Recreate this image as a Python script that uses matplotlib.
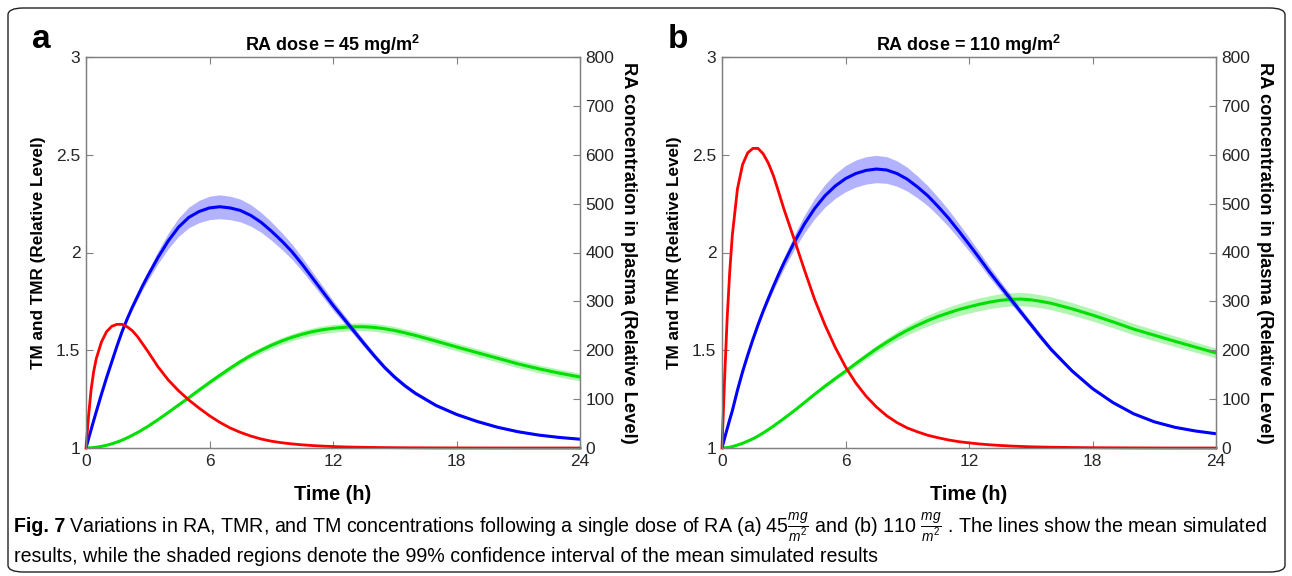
import numpy as np
import matplotlib
matplotlib.use("Agg")
import matplotlib.pyplot as plt
from matplotlib.patches import FancyBboxPatch

plt.rcParams["font.family"] = ["Liberation Sans", "DejaVu Sans"]
plt.rcParams["mathtext.fontset"] = "custom"
plt.rcParams["mathtext.rm"] = "Liberation Sans"
plt.rcParams["mathtext.it"] = "Liberation Sans:italic"
plt.rcParams["mathtext.bf"] = "Liberation Sans:bold"

# tiempo (h)
t = [0, 0.125, 0.25, 0.375, 0.5, 0.75, 1, 1.25, 1.5, 1.75, 2, 2.25, 2.5, 2.75, 3,
     3.5, 4, 4.5, 5, 5.5, 6, 6.5, 7, 7.5, 8, 8.5, 9, 9.5, 10, 10.5, 11, 11.5, 12, 12.5, 13,
     13.5, 14, 14.5, 15, 15.5, 16,
     17, 18, 19, 20, 21, 22, 23, 24]

# panel a: 45 mg/m2 (TMR azul, TM verde, RA rojo)
tmr_a = [1.0, 1.048, 1.095, 1.141, 1.186, 1.275, 1.36, 1.44, 1.52, 1.595, 1.66, 1.72, 1.775,
         1.83, 1.88,
         1.975, 2.06, 2.13, 2.18, 2.21, 2.228, 2.234, 2.228, 2.215, 2.19, 2.155, 2.11, 2.06,
         2.005, 1.94, 1.87, 1.80, 1.73, 1.665, 1.60, 1.535, 1.472, 1.413, 1.362, 1.318, 1.28,
         1.218, 1.172, 1.136, 1.106, 1.083, 1.066, 1.054, 1.045]
tmr_a_ci = [0, 0, 0, 0, 0, 0, 0.001, 0.002, 0.004, 0.006, 0.009, 0.012, 0.016, 0.02, 0.024,
            0.032, 0.04, 0.047, 0.053, 0.057, 0.06, 0.061, 0.06, 0.058, 0.055, 0.051, 0.047,
            0.043, 0.039, 0.035, 0.031, 0.028, 0.025, 0.022, 0.02, 0.017, 0.015, 0.013, 0.012,
            0.011, 0.01,
            0.008, 0.007, 0.006, 0.005, 0.004, 0.004, 0.003, 0.003]
tm_a = [1.0, 1.0005, 1.001, 1.002, 1.004, 1.008, 1.014, 1.021, 1.03, 1.04, 1.052, 1.065, 1.079,
        1.094, 1.11,
        1.145, 1.182, 1.22, 1.258, 1.297, 1.335, 1.372, 1.408, 1.442, 1.473, 1.50, 1.525, 1.547,
        1.566, 1.582, 1.595, 1.605, 1.612, 1.617, 1.62, 1.62, 1.617, 1.61, 1.601, 1.589, 1.576,
        1.547, 1.517, 1.488, 1.459, 1.43, 1.405, 1.383, 1.363]
tm_a_ci = [0, 0, 0, 0, 0, 0, 0, 0, 0, 0, 0, 0, 0, 0.001, 0.001,
           0.002, 0.003, 0.005, 0.007, 0.009, 0.01, 0.012, 0.013, 0.014, 0.015, 0.016, 0.017,
           0.018, 0.018, 0.019, 0.019, 0.02, 0.02, 0.02, 0.02, 0.02, 0.02, 0.02, 0.02, 0.02, 0.02,
           0.02, 0.02, 0.02, 0.02, 0.02, 0.02, 0.02, 0.02]
ra_a = [0, 66, 120, 157, 183, 217, 238, 249, 253, 253, 248, 240, 228, 213, 198,
        166, 139, 117, 98, 81.5, 66, 52.5, 41, 32, 24.5, 18.5, 14, 10.8, 8.4, 6.5, 5, 3.9, 3,
        2.3, 1.8, 1.4, 1.1, 0.85, 0.65, 0.5, 0.4,
        0.25, 0.15, 0.1, 0.05, 0, 0, 0, 0]

# panel b: 110 mg/m2
tmr_b = [1.0, 1.05, 1.098, 1.145, 1.19, 1.295, 1.39, 1.475, 1.555, 1.63, 1.70, 1.765, 1.828,
         1.888, 1.945,
         2.05, 2.145, 2.225, 2.29, 2.34, 2.378, 2.404, 2.42, 2.427, 2.422, 2.404, 2.375, 2.335,
         2.29, 2.235, 2.176, 2.11, 2.042, 1.972, 1.90, 1.832, 1.765, 1.698, 1.632, 1.566, 1.503,
         1.395, 1.304, 1.232, 1.175, 1.134, 1.106, 1.087, 1.073]
tmr_b_ci = [0, 0, 0, 0, 0, 0, 0.002, 0.004, 0.007, 0.01, 0.013, 0.017, 0.021, 0.025, 0.029,
            0.037, 0.045, 0.052, 0.058, 0.063, 0.067, 0.069, 0.07, 0.07, 0.068, 0.065, 0.061,
            0.056, 0.051, 0.047, 0.043, 0.039, 0.035, 0.031, 0.028, 0.025, 0.022, 0.019, 0.017,
            0.015, 0.013,
            0.01, 0.008, 0.006, 0.005, 0.004, 0.004, 0.003, 0.003]
tm_b = [1.0, 1.0005, 1.002, 1.004, 1.007, 1.015, 1.024, 1.035, 1.047, 1.061, 1.077, 1.094, 1.112,
        1.131, 1.15,
        1.19, 1.232, 1.275, 1.316, 1.355, 1.393, 1.432, 1.47, 1.507, 1.541, 1.573, 1.602, 1.628,
        1.652, 1.673, 1.691, 1.708, 1.722, 1.735, 1.746, 1.755, 1.76, 1.762, 1.758, 1.75, 1.74,
        1.712, 1.68, 1.645, 1.608, 1.577, 1.546, 1.516, 1.486]
tm_b_ci = [0, 0, 0, 0, 0, 0, 0, 0, 0, 0, 0, 0, 0, 0.001, 0.001,
           0.002, 0.004, 0.006, 0.008, 0.01, 0.012, 0.014, 0.016, 0.018, 0.02, 0.022, 0.024,
           0.026, 0.028, 0.029, 0.03, 0.031, 0.032, 0.033, 0.033, 0.034, 0.034, 0.034, 0.034,
           0.033, 0.033,
           0.032, 0.031, 0.03, 0.029, 0.028, 0.027, 0.026, 0.025]
ra_b = [0, 140, 265, 360, 435, 530, 580, 604, 613, 613, 602, 583, 557, 524, 490,
        428, 365, 304, 252, 206, 166, 133, 106, 84, 66, 52, 41, 33, 26, 21, 16.5, 13, 10.5, 8.3,
        6.6, 5.2, 4.1, 3.2, 2.5, 2, 1.6,
        1, 0.6, 0.4, 0.2, 0.1, 0, 0, 0]

titles = ["RA dose = 45 mg/m$^\\mathbf{2}$", "RA dose = 110 mg/m$^\\mathbf{2}$"]
letters = ["a", "b"]

BLUE = "#0000ff"
GREEN = "#00e000"
RED = "#ff0000"
AXC = "#808080"
TXC = "#262626"

fig = plt.figure(figsize=(12.92, 5.76), dpi=100)

# marco redondeado
fig.patches.append(FancyBboxPatch((8 / 1292, 4 / 576), 1277 / 1292, 564 / 576,
                                  boxstyle="round,pad=0,rounding_size=0.012",
                                  transform=fig.transFigure, fill=False,
                                  edgecolor="#222222", linewidth=1.0))

lefts = [86 / 1292, 722 / 1292]
datos = [(tmr_a, tmr_a_ci, tm_a, tm_a_ci, ra_a), (tmr_b, tmr_b_ci, tm_b, tm_b_ci, ra_b)]
tt = np.array(t)

for i in range(2):
    tmr, tmr_ci, tm, tm_ci, ra = [np.array(d) for d in datos[i]]
    ax = fig.add_axes([lefts[i], 128 / 576, 494 / 1292, 391 / 576])

    ax.fill_between(tt, tm - tm_ci, tm + tm_ci, color=GREEN, alpha=0.3, linewidth=0)
    ax.plot(tt, tm, color=GREEN, lw=2.2, solid_capstyle="butt")
    ax.fill_between(tt, tmr - tmr_ci, tmr + tmr_ci, color=BLUE, alpha=0.3, linewidth=0)
    ax.plot(tt, tmr, color=BLUE, lw=2.2, solid_capstyle="butt")

    ax.set_xlim(0, 24)
    ax.set_ylim(1, 3)
    ax.set_xticks([0, 6, 12, 18, 24])
    ax.set_yticks([1, 1.5, 2, 2.5, 3])
    ax.set_yticklabels(["1", "1.5", "2", "2.5", "3"])
    ax.tick_params(direction="in", top=True, right=False, length=5, width=0.8, color=AXC,
                   labelcolor=TXC, labelsize=12.5, pad=4)
    for sp in ax.spines.values():
        sp.set_color(AXC)
        sp.set_linewidth(1.0)
    ax.set_xlabel("Time (h)", fontsize=14.3, fontweight="bold", color="black", labelpad=12)
    ax.set_ylabel("TM and TMR (Relative Level)", fontsize=12.3, fontweight="bold",
                  color="black", labelpad=7)
    ax.set_title(titles[i], fontsize=13, fontweight="bold", pad=4)

    ax2 = ax.twinx()
    ax2.plot(tt, ra, color=RED, lw=2.0, clip_on=False)
    ax2.set_ylim(0, 800)
    ax2.set_yticks(range(0, 801, 100))
    ax2.tick_params(direction="in", length=5, width=0.8, color=AXC, labelcolor=TXC,
                    labelsize=12.5, pad=4)
    for sp in ax2.spines.values():
        sp.set_color(AXC)
    ax2.set_ylabel("RA concentration in plasma (Relative Level)", fontsize=13.2,
                   fontweight="bold", rotation=270, va="bottom", labelpad=4)

    fig.text(lefts[i] - 54 / 1292, 1 - 48 / 576, letters[i], fontsize=24, fontweight="bold",
             ha="left", va="baseline")

# leyenda de la figura
cap_y1 = 1 - 527 / 576
cap_y2 = 1 - 557 / 576
x0 = 14 / 1292
fig.canvas.draw()
rend = fig.canvas.get_renderer()
tb = fig.text(x0, cap_y1, "Fig. 7", fontsize=14.1, fontweight="bold", va="center", ha="left")
w = tb.get_window_extent(rend).width / 1292
fig.text(x0 + w + 4 / 1292, cap_y1,
         "Variations in RA, TMR, and TM concentrations following a single dose of RA (a) "
         "45$\\frac{mg}{m^2}$ and (b) 110 $\\frac{mg}{m^2}$ . The lines show the mean simulated",
         fontsize=14.1, va="center", ha="left")
fig.text(x0, cap_y2,
         "results, while the shaded regions denote the 99% confidence interval of the mean "
         "simulated results", fontsize=14.1, va="center", ha="left")

fig.savefig("out.png", dpi=100)
